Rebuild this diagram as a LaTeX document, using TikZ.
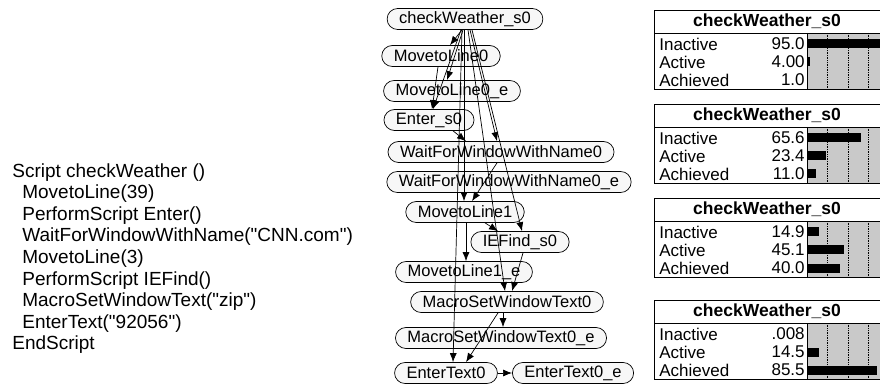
\documentclass[tikz,border=0pt]{standalone}
\usepackage{fontspec}
\setmainfont{Liberation Sans}[Ligatures=TeXOff]
\usetikzlibrary{arrows.meta}
\definecolor{nodefill}{gray}{0.97}
\definecolor{bargrey}{gray}{0.79}

% one belief panel: name, top, three printed values, three numeric values
\newcommand{\statepanel}[8]{%
\draw[fill=white] (654,#2) rectangle (890,#2+23);
\draw[fill=white] (654,#2+23) rectangle (807,#2+79);
\draw[fill=bargrey] (807,#2+23) rectangle (890,#2+79);
\foreach \gx in {827.5,848,868.5}
  \draw[densely dotted] (\gx,#2+23) -- (\gx,#2+79);
\draw (654,#2+23) -- (890,#2+23) (807,#2+23) -- (807,#2+79);
\node[ptitle] (#1t) at (767,#2+11.5) {checkWeather\_s0};
\node[plbl] (#1a) at (659,#2+34) {Inactive};
\node[plbl] (#1b) at (659,#2+52) {Active};
\node[plbl] (#1c) at (659,#2+70) {Achieved};
\node[pval] (#1x) at (805,#2+34) {#3};
\node[pval] (#1y) at (805,#2+52) {#4};
\node[pval] (#1z) at (805,#2+70) {#5};
\fill (807,#2+29.5) rectangle ++(0.82*#6,9);
\fill (807,#2+47.5) rectangle ++(0.82*#7,9);
\fill (807,#2+65.5) rectangle ++(0.82*#8,9);
}

\begin{document}
\begin{tikzpicture}[x=1pt,y=-1pt,line width=0.7pt,>={Latex[length=9pt,width=7pt]}]
\tikzstyle{task}=[draw, fill=nodefill, rounded corners=10.5pt, minimum height=21pt,
  inner xsep=12pt, inner ysep=0pt, font=\fontsize{16.5}{17}\selectfont]
\tikzstyle{ptitle}=[font=\bfseries\fontsize{17.5}{18}\selectfont, inner sep=0pt]
\tikzstyle{plbl}=[anchor=west, font=\fontsize{17}{18}\selectfont, inner sep=0pt]
\tikzstyle{pval}=[anchor=east, font=\fontsize{17}{18}\selectfont, inner sep=0pt]
\useasboundingbox (0,0) rectangle (880,387);
\clip (0,0) rectangle (880,387);

% script text
\node[anchor=west, align=left, inner sep=0pt, font=\fontsize{19}{21.6}\selectfont] (script) at (12,258.5)
  {Script checkWeather ()\\
  \hspace*{10pt}MovetoLine(39)\\
  \hspace*{10pt}PerformScript Enter()\\
  \hspace*{10pt}WaitForWindowWithName("CNN.com")\\
  \hspace*{10pt}MovetoLine(3)\\
  \hspace*{10pt}PerformScript IEFind()\\
  \hspace*{10pt}MacroSetWindowText("zip")\\
  \hspace*{10pt}EnterText("92056")\\
  EndScript};

% task graph
\node[task] (cw) at (465,19) {checkWeather\_s0};
\node[task] (ml0) at (441,56) {MovetoLine0};
\node[task] (ml0e) at (452,91) {MovetoLine0\_e};
\node[task] (ent) at (429,120) {Enter\_s0};
\node[task] (wfw0) at (501,152) {WaitForWindowWithName0};
\node[task] (wfw0e) at (509,182) {WaitForWindowWithName0\_e};
\node[task] (ml1) at (465,212) {MovetoLine1};
\node[task] (ief) at (520,242) {IEFind\_s0};
\node[task] (ml1e) at (464,272) {MovetoLine1\_e};
\node[task] (msw0) at (507,302) {MacroSetWindowText0};
\node[task] (msw0e) at (501,338) {MacroSetWindowText0\_e};
\node[task] (et0) at (446,373) {EnterText0};
\node[task] (et0e) at (573,373) {EnterText0\_e};

\draw[->] ([xshift=-3pt]cw.south) -- ([xshift=9pt]ml0.north);
\draw[->] ([xshift=-2pt]cw.south) -- ([xshift=-5pt]ml0e.north);
\draw[->] ([xshift=-4pt]cw.south) -- ([xshift=4pt]ent.north);
\draw[->] ([xshift=-3pt]ml0.south) -- ([xshift=3pt]ent.north);
\draw[->] ([xshift=24pt]ent.south) -- ([xshift=-35pt]wfw0.north);
\draw[->] ([xshift=5pt]cw.south) -- ([xshift=-4pt]wfw0.north);
\draw[->] ([xshift=7pt]cw.south) -- ([xshift=2pt]ief.north);
\draw[->] ([xshift=-4pt]wfw0.south) -- ([xshift=7pt]ml1.north);
\draw[->] ([xshift=-1pt]cw.south) -- ([xshift=-1pt]ml1.north);
\draw[->] ([xshift=20pt]ml1.south) -- ([xshift=-22pt]ief.north);
\draw[->] ([xshift=1pt]ml1.south) -- ([xshift=2pt]ml1e.north);
\draw[->] ([xshift=-3pt]cw.south) -- ([xshift=7pt]et0.north);
\draw[->] ([xshift=3pt]cw.south) -- ([xshift=-2pt]msw0.north);
\draw[->] ([xshift=3pt]ief.south) -- ([xshift=5pt]msw0.north);
\draw[->] ([xshift=-4pt]msw0.south) -- ([xshift=2pt]msw0e.north);
\draw[->] ([xshift=-9pt]msw0.south) -- ([xshift=20pt]et0.north);
\draw[->] (et0.east) -- (et0e.west);

% belief panels
\statepanel{pa}{10}{95.0}{4.00}{1.0}{95}{4}{1}
\statepanel{pb}{104}{65.6}{23.4}{11.0}{65.6}{23.4}{11}
\statepanel{pc}{198}{14.9}{45.1}{40.0}{14.9}{45.1}{40}
\statepanel{pd}{300}{.008}{14.5}{85.5}{0.008}{14.5}{85.5}
\end{tikzpicture}
\end{document}
